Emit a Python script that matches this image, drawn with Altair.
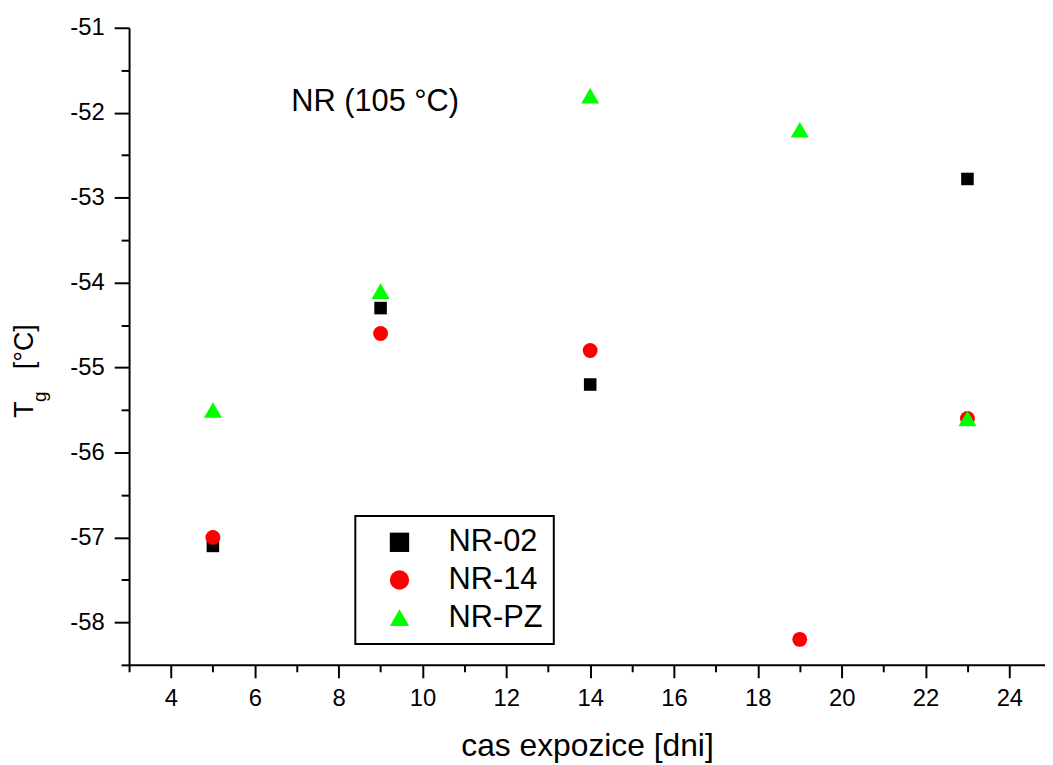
import altair as alt
import pandas as pd

# ---- data ----
series = ["NR-02", "NR-14", "NR-PZ"]
nr02_x = [5, 9, 14, 23]
nr02_y = [-57.1, -54.3, -55.2, -52.78]
nr14_x = [5, 9, 14, 19, 23]
nr14_y = [-57.0, -54.6, -54.8, -58.2, -55.6]
nrpz_x = [5, 9, 14, 19, 23]
nrpz_y = [-55.5, -54.1, -51.8, -52.2, -55.6]

x_major = [4, 6, 8, 10, 12, 14, 16, 18, 20, 22, 24]
x_minor = [3, 5, 7, 9, 11, 13, 15, 17, 19, 21, 23]
y_major = [-58, -57, -56, -55, -54, -53, -52, -51]
y_minor = [-58.5, -57.5, -56.5, -55.5, -54.5, -53.5, -52.5, -51.5]

x_title = "cas expozice [dni]"
annotation = "NR (105 °C)"

# ---- styles ----
FONT = "Liberation Sans"
colors = ["#000000", "#ff0000", "#00ff00"]
shapes = ["square", "circle", "triangle-up"]
marker_size = {"NR-02": 160, "NR-14": 225, "NR-PZ": 330}

rows = []
for name, xs, ys in [("NR-02", nr02_x, nr02_y), ("NR-14", nr14_x, nr14_y), ("NR-PZ", nrpz_x, nrpz_y)]:
    for xv, yv in zip(xs, ys):
        rows.append({"x": xv, "y": yv, "series": name, "sz": marker_size[name]})
df = pd.DataFrame(rows)

xscale = alt.Scale(domain=[3, 24.85], nice=False, zero=False)
yscale = alt.Scale(domain=[-58.5, -51], nice=False, zero=False)

legend = alt.Legend(
    title=None, orient="none", legendX=228, legendY=492,
    labelFont=FONT, labelFontSize=31, labelColor="black",
    padding=11, rowPadding=6, symbolOffset=18, labelOffset=34,
    symbolSize=380, symbolStrokeWidth=0,
    strokeColor="black", fillColor="white",
)

major_x = alt.Axis(
    values=x_major, orient="bottom", grid=False,
    domainColor="black", domainWidth=2, tickColor="black", tickWidth=2, tickSize=13,
    labelFont=FONT, labelFontSize=24, labelColor="black", labelPadding=9,
    title=x_title, titleFont=FONT, titleFontSize=32, titleFontWeight="normal",
    titleColor="black", titleY=91, titleBaseline="alphabetic",
)
minor_x = alt.Axis(
    values=x_minor, orient="bottom", grid=False, domain=False, labels=False,
    tickColor="black", tickWidth=2, tickSize=7, title=None,
)
major_y = alt.Axis(
    values=y_major, orient="left", grid=False,
    domainColor="black", domainWidth=2, tickColor="black", tickWidth=2, tickSize=15,
    labelFont=FONT, labelFontSize=24, labelColor="black", labelPadding=10,
    labelExpr="'' + datum.value", title=None,
)
minor_y = alt.Axis(
    values=y_minor, orient="left", grid=False, domain=False, labels=False,
    tickColor="black", tickWidth=2, tickSize=8, title=None,
)

minor = alt.Chart(df).mark_point(opacity=0).encode(
    x=alt.X("x:Q", scale=xscale, axis=minor_x),
    y=alt.Y("y:Q", scale=yscale, axis=minor_y),
)

points = alt.Chart(df).mark_point(filled=True, opacity=1, strokeWidth=0).encode(
    x=alt.X("x:Q", scale=xscale, axis=major_x),
    y=alt.Y("y:Q", scale=yscale, axis=major_y),
    color=alt.Color("series:N", scale=alt.Scale(domain=series, range=colors), legend=legend),
    shape=alt.Shape("series:N", scale=alt.Scale(domain=series, range=shapes), legend=legend),
    size=alt.Size("sz:Q", scale=None),
    order=alt.Order("idx:Q"),
).transform_window(idx="row_number()")

annot = alt.Chart(pd.DataFrame({"x": [8.87], "y": [-51.88], "t": [annotation]})).mark_text(
    font=FONT, fontSize=31, color="black", align="center", baseline="middle"
).encode(
    x=alt.X("x:Q", scale=xscale, axis=None),
    y=alt.Y("y:Q", scale=yscale, axis=None),
    text="t:N",
)

def ytitle_part(txt, size, px, py):
    return alt.Chart(pd.DataFrame({"t": [txt]})).mark_text(
        font=FONT, fontSize=size, color="black", angle=270,
        align="left", baseline="alphabetic",
    ).encode(text="t:N", x=alt.value(px), y=alt.value(py))

yt_T = ytitle_part("T", 27, -97, 393)
yt_g = ytitle_part("g", 19, -84, 377)
yt_rest = ytitle_part("[°C]", 27, -97, 344)

chart = alt.layer(minor, points, annot, yt_T, yt_g, yt_rest).resolve_axis(
    x="independent", y="independent"
).properties(
    width=923, height=642,
    padding={"left": 122, "top": 17, "right": 0, "bottom": 97},
    autosize=alt.AutoSizeParams(type="none"),
    background="white",
).configure_view(stroke=None).configure_legend(strokeWidth=2)

chart.save("out.html", embed_options={"renderer": "svg", "actions": False})
